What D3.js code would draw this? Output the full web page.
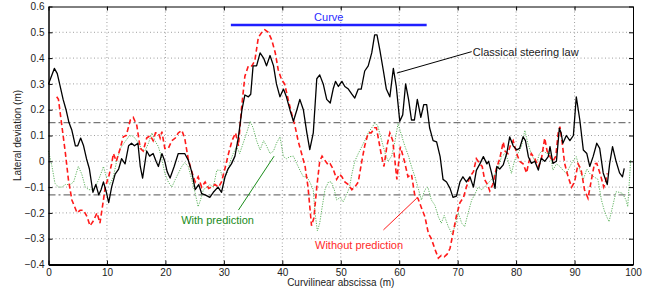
<!DOCTYPE html>
<html>
<head>
<meta charset="utf-8">
<script src="https://cdn.jsdelivr.net/npm/d3@7"></script>
<style>
  body { margin: 0; background: #fff; }
  text { font-family: "Liberation Sans", Arial, Helvetica, sans-serif; }
</style>
</head>
<body>
<div id="chart"></div>
<script>
var width = 666,
    height = 290;

// classical steering law (black)
var classicalX = [0,0.5,1,1.5,2,2.5,3,3.5,4,4.6,5,5.5,6,6.5,7,7.6,8.1,8.6,9,9.4,9.9,10.3,10.8,11.4,12,12.5,13.1,13.7,14.2,14.7,15.3,15.7,16.1,16.8,17.3,17.9,18.4,18.8,19.4,19.9,20.3,20.8,21.5,22.2,23.3,23.9,24.5,25.1,25.7,26.2,26.8,27.6,28.2,29,29.6,30.2,30.7,31.3,31.9,32.5,33.1,33.6,34.2,34.6,35,35.6,36.2,36.8,37.3,37.9,38.5,39,39.6,40.2,40.7,41.3,41.9,42.5,43,43.6,44.2,44.7,45.3,45.9,46.4,47,47.6,48.2,48.7,49.1,49.6,50.2,50.7,51.3,51.9,52.4,53,53.5,54.1,54.7,55.3,55.8,56.2,56.7,57.3,57.8,58.4,59,59.5,60.1,60.6,61.1,61.6,62.1,62.6,63.1,63.7,64.2,64.7,65.2,65.8,66.4,67,67.5,68.1,68.7,69.2,69.8,70.4,70.9,71.5,72.1,72.7,73.2,73.8,74.4,75,75.3,75.8,76.4,76.7,77.2,77.8,78.4,78.9,79.5,80.1,80.6,81.2,81.6,82.1,82.6,83.2,83.8,84.3,84.9,85.5,85.8,86.3,86.9,87.4,87.7,88,88.6,89.2,89.8,90.3,90.9,91.5,92.1,92.6,93.2,93.8,94.3,94.9,95.6,96,96.5,97.1,97.7,98.2,98.5];
var classicalY = [0.30,0.33,0.36,0.34,0.29,0.24,0.20,0.15,0.12,0.06,0.06,0.09,0.06,0.01,-0.03,-0.12,-0.09,-0.13,-0.11,-0.08,-0.12,-0.16,-0.10,-0.05,-0.03,0.01,-0.01,0.06,0.07,0.06,0.07,-0.02,-0.065,0.04,0.02,0.03,0.00,-0.02,0.03,0.00,-0.04,-0.065,-0.02,0.03,0.03,0.005,-0.04,-0.11,-0.09,-0.125,-0.13,-0.14,-0.12,-0.10,-0.12,-0.06,-0.03,-0.01,0.02,0.095,0.20,0.257,0.25,0.26,0.37,0.37,0.42,0.40,0.37,0.41,0.37,0.30,0.25,0.28,0.25,0.20,0.155,0.20,0.24,0.20,0.11,0.045,0.11,0.32,0.335,0.30,0.24,0.226,0.28,0.31,0.29,0.31,0.29,0.28,0.26,0.245,0.28,0.28,0.35,0.37,0.42,0.49,0.49,0.43,0.35,0.28,0.25,0.36,0.29,0.155,0.18,0.30,0.24,0.16,0.16,0.24,0.17,0.22,0.22,0.13,0.08,0.075,0.018,-0.07,-0.08,-0.105,-0.14,-0.135,-0.08,-0.06,-0.08,-0.06,-0.10,-0.035,-0.01,0.018,-0.01,0.0,-0.045,-0.105,-0.02,-0.03,-0.014,0.03,0.095,0.06,0.044,0.05,0.095,0.08,0.018,-0.008,0.0,-0.034,0.012,0.0,0.018,0.057,-0.008,0.0,0.128,0.11,0.07,0.10,0.08,0.10,0.25,0.16,0.044,0.03,-0.02,0.02,0.07,0.05,-0.045,-0.09,-0.01,0.057,0.0,-0.045,-0.06,-0.027];

// without prediction (red dashed)
var withoutX = [1.4,1.7,2.3,2.9,3.4,4,4.9,5.4,6,6.6,7.1,7.7,8.3,8.8,9.4,9.7,10.3,10.8,11.1,11.6,12.2,12.8,13.3,14,14.5,15.1,15.7,16.2,16.8,17.4,17.9,18.3,18.8,19.1,19.4,19.9,20.5,21.1,21.7,22.2,22.8,23.3,23.9,24.5,25.1,25.6,26.2,26.8,27.4,27.9,28.5,29.1,29.6,30.2,30.8,31.4,32,32.5,33,33.6,34.2,34.8,35.3,35.9,36.5,37,37.6,38.2,38.8,39.3,39.9,40.4,41,41.6,42.2,42.7,43.3,43.9,44.4,45,45.4,45.9,46.4,46.8,47.4,47.9,48.2,48.7,49.3,49.8,50.2,50.7,51.3,51.9,52.4,53,53.6,54.1,54.7,55.2,55.8,56.1,56.5,57,57.4,57.9,58.4,58.9,59.6,60.2,60.9,61.5,62.1,62.7,63.2,63.8,64.4,65,65.5,66.1,66.7,67.2,67.7,68.2,68.7,69.2,69.8,70.4,71,71.5,72.1,72.7,73.2,73.8,74.2,74.6,75.1,75.5,76,76.6,77.2,77.8,78.1,78.6,79,79.5,80.1,80.6,81.2,81.8,82.1,82.6,83.2,83.8,84.3,84.9,85.3,85.8,86.3,86.8,87.2,87.5,87.9,88.3,88.9,89.5,90,90.6,91.1,91.7,92.3,92.9,93.4,93.8,94.4,95,95.3,95.6];
var withoutY = [0.25,0.24,0.135,0.03,-0.07,-0.15,-0.20,-0.19,-0.19,-0.215,-0.25,-0.23,-0.20,-0.24,-0.15,-0.10,-0.06,-0.01,0.03,0.0,0.045,0.095,0.10,0.16,0.17,0.14,0.05,0.04,0.09,0.10,0.08,0.11,0.11,0.09,0.115,0.05,0.05,0.08,0.09,0.11,0.12,0.09,0.01,-0.04,-0.08,-0.06,-0.10,-0.08,-0.105,-0.10,-0.09,-0.10,-0.08,-0.027,0.03,0.08,0.11,0.06,0.20,0.33,0.37,0.37,0.39,0.48,0.50,0.51,0.50,0.47,0.42,0.355,0.315,0.30,0.24,0.185,0.134,0.08,0.03,-0.02,-0.10,-0.25,-0.22,-0.10,0.0,0.02,0.0,-0.015,-0.01,-0.03,-0.07,-0.05,-0.06,-0.08,-0.09,-0.11,-0.10,-0.08,0.0,0.06,0.11,0.11,0.13,0.13,0.08,0.018,-0.02,0.06,0.11,0.08,-0.07,0.057,0.0,-0.06,-0.05,-0.137,-0.143,-0.18,-0.215,-0.28,-0.30,-0.34,-0.375,-0.365,-0.37,-0.36,-0.337,-0.28,-0.21,-0.16,-0.14,-0.10,-0.06,-0.04,0.01,-0.01,-0.02,-0.07,-0.09,-0.115,-0.09,-0.03,0.01,0.075,0.04,0.03,0.06,0.08,0.03,0.0,-0.01,-0.045,-0.01,0.03,0.01,-0.02,0.005,0.09,0.04,0.018,0.0,0.02,0.11,0.134,0.07,-0.008,-0.06,-0.10,-0.08,-0.01,-0.03,-0.11,-0.143,-0.07,-0.01,-0.008,-0.05,-0.10,-0.08,-0.047];

// with prediction (green dotted)
var withX = [0,0.6,1.1,1.7,2.3,2.9,3.7,4.3,5.1,5.7,6.3,6.9,7.4,8,8.6,9.1,9.4,10,10.5,11.1,11.7,12.3,12.9,13.7,14.2,14.8,15.4,15.9,16.5,17.1,17.7,18.2,18.8,19.4,19.9,20.5,21.1,21.7,22.2,22.8,23.3,23.9,24.5,25.1,25.6,26,26.5,27.1,27.6,28.2,28.8,29.4,29.9,30.5,31.1,31.6,32.2,32.7,33.3,33.9,34.5,35,35.6,36.2,36.8,37.3,37.9,38.5,39,39.6,40.2,40.7,41.3,41.9,42.5,43,43.6,44.2,44.7,45.3,45.6,46,46.4,46.8,47.3,47.9,48.4,48.9,49.3,49.9,50.4,51,51.5,51.9,52.4,53,53.6,54.1,54.7,55.3,55.8,56.3,57,57.6,58.1,58.7,59.3,59.8,60.4,61,61.6,62.1,62.7,63.2,63.8,64.4,64.9,65.5,66.1,66.7,67.2,67.7,68.4,69,69.6,70.1,70.7,71.2,71.8,72.4,72.9,73.5,74.1,74.6,75.2,75.8,76.4,76.9,77.5,78.1,78.6,79.2,79.7,80.3,80.9,81.5,82,82.6,83.2,83.5,84,84.6,85.2,85.8,86.3,86.9,87.5,88,88.6,89.2,89.8,90.3,90.9,91.5,92.1,92.7,93.3,94,94.6,95.2,95.9,96.5,97.1,97.6,98.2,98.8,99.1,99.4,99.6];
var withY = [0.04,-0.02,-0.085,-0.1,-0.1,-0.09,-0.09,-0.08,-0.02,-0.05,-0.1,-0.11,-0.11,-0.10,-0.07,-0.04,-0.02,-0.07,-0.09,-0.06,0.005,0.05,0.07,0.095,0.10,0.09,0.07,0.05,0.04,0.07,0.11,0.08,0.057,0.01,-0.047,-0.08,-0.1,-0.07,-0.047,-0.02,-0.005,-0.02,-0.07,-0.124,-0.176,-0.15,-0.11,-0.10,-0.09,-0.10,-0.034,-0.035,-0.07,-0.05,0.0,0.03,0.057,0.03,0.07,0.11,0.155,0.13,0.08,0.044,0.08,0.06,0.03,0.04,0.07,0.095,0.018,0.01,0.018,0.02,-0.01,-0.034,-0.06,-0.06,-0.08,-0.11,-0.20,-0.27,-0.24,-0.18,-0.11,-0.08,-0.08,-0.11,-0.15,-0.14,-0.157,-0.13,-0.10,-0.05,0.0,0.03,0.057,0.08,0.11,0.13,0.147,0.14,0.08,0.03,0.0,0.02,0.08,0.147,0.10,0.057,0.02,-0.02,-0.06,-0.10,-0.15,-0.11,-0.10,-0.15,-0.17,-0.215,-0.24,-0.21,-0.253,-0.28,-0.25,-0.2,-0.24,-0.253,-0.2,-0.15,-0.13,-0.1,-0.11,-0.1,-0.085,-0.07,-0.047,-0.03,0.018,0.03,0.005,-0.047,0.0,0.03,0.057,0.12,0.07,0.03,0.0,-0.008,0.03,0.044,0.03,0.03,-0.034,-0.01,-0.02,-0.034,-0.047,-0.02,0.005,0.018,-0.034,-0.07,-0.03,-0.05,-0.06,-0.07,-0.15,-0.2,-0.234,-0.176,-0.118,-0.12,-0.124,-0.15,-0.176,-0.07,0.005];

// threshold lines, curve zone
var thresholds = [0.15, -0.13];
var curveZone = [31.2, 64.7];

var xTicks = d3.range(0, 101, 10);
var yTicks = [-0.4,-0.3,-0.2,-0.1,0,0.1,0.2,0.3,0.4,0.5,0.6];

var margin = {left: 48.5, right: 33, top: 6.5, bottom: 25.5};

var svg = d3.select("#chart")
  .append("svg")
  .attr("width", width)
  .attr("height", height);

var x = d3.scaleLinear().domain([0, 100]).range([margin.left, width - margin.right]);
var y = d3.scaleLinear().domain([-0.4, 0.6]).range([height - margin.bottom, margin.top]);

var fmtY = function(d) { return d === 0 ? "0" : d3.format(".1f")(d); };

// grid
svg.append("g")
  .selectAll("line.gx")
  .data(xTicks.slice(1, -1))
  .enter().append("line")
  .attr("x1", d => x(d)).attr("x2", d => x(d))
  .attr("y1", y(-0.4)).attr("y2", y(0.6))
  .attr("stroke", "#888").attr("stroke-width", 0.8)
  .attr("stroke-dasharray", "1,2.5");

svg.append("g")
  .selectAll("line.gy")
  .data(yTicks.slice(1, -1))
  .enter().append("line")
  .attr("x1", x(0)).attr("x2", x(100))
  .attr("y1", d => y(d)).attr("y2", d => y(d))
  .attr("stroke", "#888").attr("stroke-width", 0.8)
  .attr("stroke-dasharray", "1,2.5");

// thresholds
svg.append("g")
  .selectAll("line")
  .data(thresholds)
  .enter().append("line")
  .attr("x1", x(0)).attr("x2", x(100))
  .attr("y1", d => y(d)).attr("y2", d => y(d))
  .attr("stroke", "#777").attr("stroke-width", 1.2)
  .attr("stroke-dasharray", "7,3,2,3");

function series(xs, ys) {
  return xs.map(function(d, i) { return [d, ys[i]]; });
}

var line = d3.line()
  .x(d => x(d[0]))
  .y(d => y(d[1]));

svg.append("path")
  .datum(series(withX, withY))
  .attr("d", line)
  .attr("fill", "none")
  .attr("stroke", "#5fb45f")
  .attr("stroke-width", 1)
  .attr("stroke-dasharray", "1.2,1.3");

svg.append("path")
  .datum(series(withoutX, withoutY))
  .attr("d", line)
  .attr("fill", "none")
  .attr("stroke", "#ff1a1a")
  .attr("stroke-width", 1.6)
  .attr("stroke-dasharray", "5,3");

svg.append("path")
  .datum(series(classicalX, classicalY))
  .attr("d", line)
  .attr("fill", "none")
  .attr("stroke", "#000")
  .attr("stroke-width", 1.3)
  .attr("stroke-linejoin", "round");

// curve zone marker
svg.append("line")
  .attr("x1", x(curveZone[0])).attr("x2", x(curveZone[1]))
  .attr("y1", y(0.528)).attr("y2", y(0.528))
  .attr("stroke", "#1f1fff").attr("stroke-width", 2.5);

svg.append("text")
  .attr("x", x((curveZone[0] + curveZone[1]) / 2))
  .attr("y", y(0.543))
  .attr("text-anchor", "middle")
  .attr("fill", "#2a2aff")
  .style("font-size", "11px")
  .text("Curve");

// annotations
svg.append("line")
  .attr("x1", x(59.6)).attr("y1", y(0.342))
  .attr("x2", x(72.4)).attr("y2", y(0.425))
  .attr("stroke", "#000").attr("stroke-width", 1);
svg.append("text")
  .attr("x", x(72.6)).attr("y", y(0.41))
  .attr("fill", "#222")
  .style("font-size", "11px")
  .text("Classical steering law");

svg.append("line")
  .attr("x1", x(32.5)).attr("y1", y(-0.189))
  .attr("x2", x(38.6)).attr("y2", y(0.02))
  .attr("stroke", "#1a8c1a").attr("stroke-width", 1);
svg.append("text")
  .attr("x", x(22.7)).attr("y", y(-0.243))
  .attr("fill", "#1a8c1a")
  .style("font-size", "11px")
  .text("With prediction");

svg.append("line")
  .attr("x1", x(57.3)).attr("y1", y(-0.266))
  .attr("x2", x(63)).attr("y2", y(-0.143))
  .attr("stroke", "#ff1a1a").attr("stroke-width", 1);
svg.append("text")
  .attr("x", x(45.6)).attr("y", y(-0.338))
  .attr("fill", "#ff2a2a")
  .style("font-size", "11px")
  .text("Without prediction");

// axes
var xAxis = svg.append("g")
  .attr("transform", "translate(0," + y(-0.4) + ")")
  .call(d3.axisBottom(x).tickValues(xTicks).tickSizeInner(-4).tickSizeOuter(0).tickPadding(4).tickFormat(d3.format("d")));
var xTop = svg.append("g")
  .attr("transform", "translate(0," + y(0.6) + ")")
  .call(d3.axisTop(x).tickValues(xTicks).tickSizeInner(-4).tickSizeOuter(0).tickFormat(""));
var yAxis = svg.append("g")
  .attr("transform", "translate(" + x(0) + ",0)")
  .call(d3.axisLeft(y).tickValues(yTicks).tickSizeInner(-4).tickSizeOuter(0).tickPadding(4).tickFormat(fmtY));
var yRight = svg.append("g")
  .attr("transform", "translate(" + x(100) + ",0)")
  .call(d3.axisRight(y).tickValues(yTicks).tickSizeInner(-4).tickSizeOuter(0).tickFormat(""));

svg.selectAll(".tick text")
  .style("font-size", "10px")
  .attr("fill", "#222");
svg.selectAll(".domain").attr("stroke", "#000");
xAxis.select(".domain").attr("stroke-width", 2);
yAxis.select(".domain").attr("stroke-width", 1.5);

svg.append("text")
  .attr("x", (x(0) + x(100)) / 2)
  .attr("y", 286)
  .attr("text-anchor", "middle")
  .attr("fill", "#222")
  .style("font-size", "10px")
  .text("Curvilinear abscissa (m)");

svg.append("text")
  .attr("transform", "translate(21," + ((y(-0.4) + y(0.6)) / 2) + ") rotate(-90)")
  .attr("text-anchor", "middle")
  .attr("fill", "#222")
  .style("font-size", "10px")
  .text("Lateral deviation (m)");
</script>
</body>
</html>
